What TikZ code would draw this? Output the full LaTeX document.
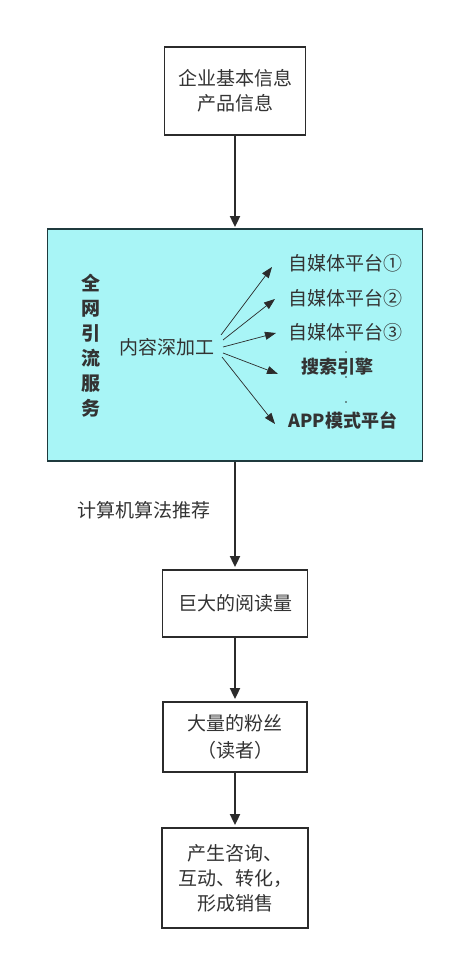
\documentclass[tikz,border=0pt]{standalone}
\usepackage{fontspec}
\setmainfont{Noto Sans CJK SC}
\usepackage{tikz}
\usetikzlibrary{calc, positioning}
\usetikzlibrary{arrows.meta}
\tikzset{>=stealth}
\usepackage[usenames,dvipsnames]{xcolor}
\definecolor{mycyan}{HTML}{A8F5F6}
\definecolor{myteal}{HTML}{1F3A3E}
\definecolor{mytext}{HTML}{333333}
\definecolor{myline}{HTML}{2B2B2B}
\tikzset{
  stagebox/.style={draw=myline, line width=1.8pt, fill=white, align=center, text=mytext, font=\fontsize{19}{25}\selectfont},
  mainarrow/.style={draw=myline, line width=1.8pt, -{Triangle[length=11pt,width=10pt]}},
  fanarrow/.style={draw=myline, line width=0.7pt, -{Triangle[length=11pt,width=8pt]}},
  platform/.style={text=mytext, font=\fontsize{19}{25}\selectfont, inner sep=1pt}
}

\begin{document}
\begin{tikzpicture}[x=1pt,y=-1pt]
			\useasboundingbox (0,0) rectangle (453,960);
			\fill[white] (0,0) rectangle (453,960);
			\node [stagebox, minimum width=141pt, minimum height=88pt] (info) at (235,91) {企业基本信息\\产品信息};
			\node [draw=myteal, line width=1.8pt, fill=mycyan, minimum width=375pt, minimum height=232pt] (service) at (235,345) {};
			\node [stagebox, minimum width=145pt, minimum height=67pt] (reads) at (235,603.5) {巨大的阅读量};
			\node [stagebox, minimum width=144pt, minimum height=70pt, font=\fontsize{19}{27}\selectfont] (fans) at (235,737) {大量的粉丝\\（读者）};
			\node [stagebox, minimum width=146pt, minimum height=100pt] (sales) at (235,878) {产生咨询、\\互动、转化，\\形成销售};
			\node [text=mytext, align=center, font=\bfseries\fontsize{19}{25}\selectfont] (title) at (91,346) {全\\网\\引\\流\\服\\务};
			\node [platform] (content) at (167,347) {内容深加工};
			\node [platform] (p1) at (345,263) {自媒体平台①};
			\node [platform] (p2) at (345,298) {自媒体平台②};
			\node [platform] (p3) at (345,332) {自媒体平台③};
			\node [platform, font=\bfseries\fontsize{18}{25}\selectfont] (p4) at (337,367) {搜索引擎};
			\node [platform, font=\bfseries\fontsize{18}{25}\selectfont] (p5) at (343,420) {APP模式平台};
			\node [text=mytext, font=\fontsize{19}{25}\selectfont] (algo) at (144,510) {计算机算法推荐};
			\coordinate (s1) at (221,335);
			\coordinate (s2) at (223,340);
			\coordinate (s3) at (223,347);
			\coordinate (s4) at (223,353);
			\coordinate (s5) at (222,357);
			\coordinate (e1) at (272,267);
			\coordinate (e2) at (275,299);
			\coordinate (e3) at (276,333);
			\coordinate (e4) at (278,374);
			\coordinate (e5) at (275,424);
			\draw [fanarrow] (s1) -- (e1);
			\draw [fanarrow] (s2) -- (e2);
			\draw [fanarrow] (s3) -- (e3);
			\draw [fanarrow] (s4) -- (e4);
			\draw [fanarrow] (s5) -- (e5);
			\fill[myline] (346,352) circle (0.8pt) (346,377) circle (0.8pt) (346,402) circle (0.8pt);
			\draw [mainarrow] (info.south) -- ($(service.north)+(0,-1)$);
			\draw [mainarrow] (service.south) -- ($(reads.north)+(0,-2)$);
			\draw [mainarrow] (reads.south) -- ($(fans.north)+(0,-2)$);
			\draw [mainarrow] (fans.south) -- ($(sales.north)+(0,-2)$);
		\end{tikzpicture}
\end{document}
